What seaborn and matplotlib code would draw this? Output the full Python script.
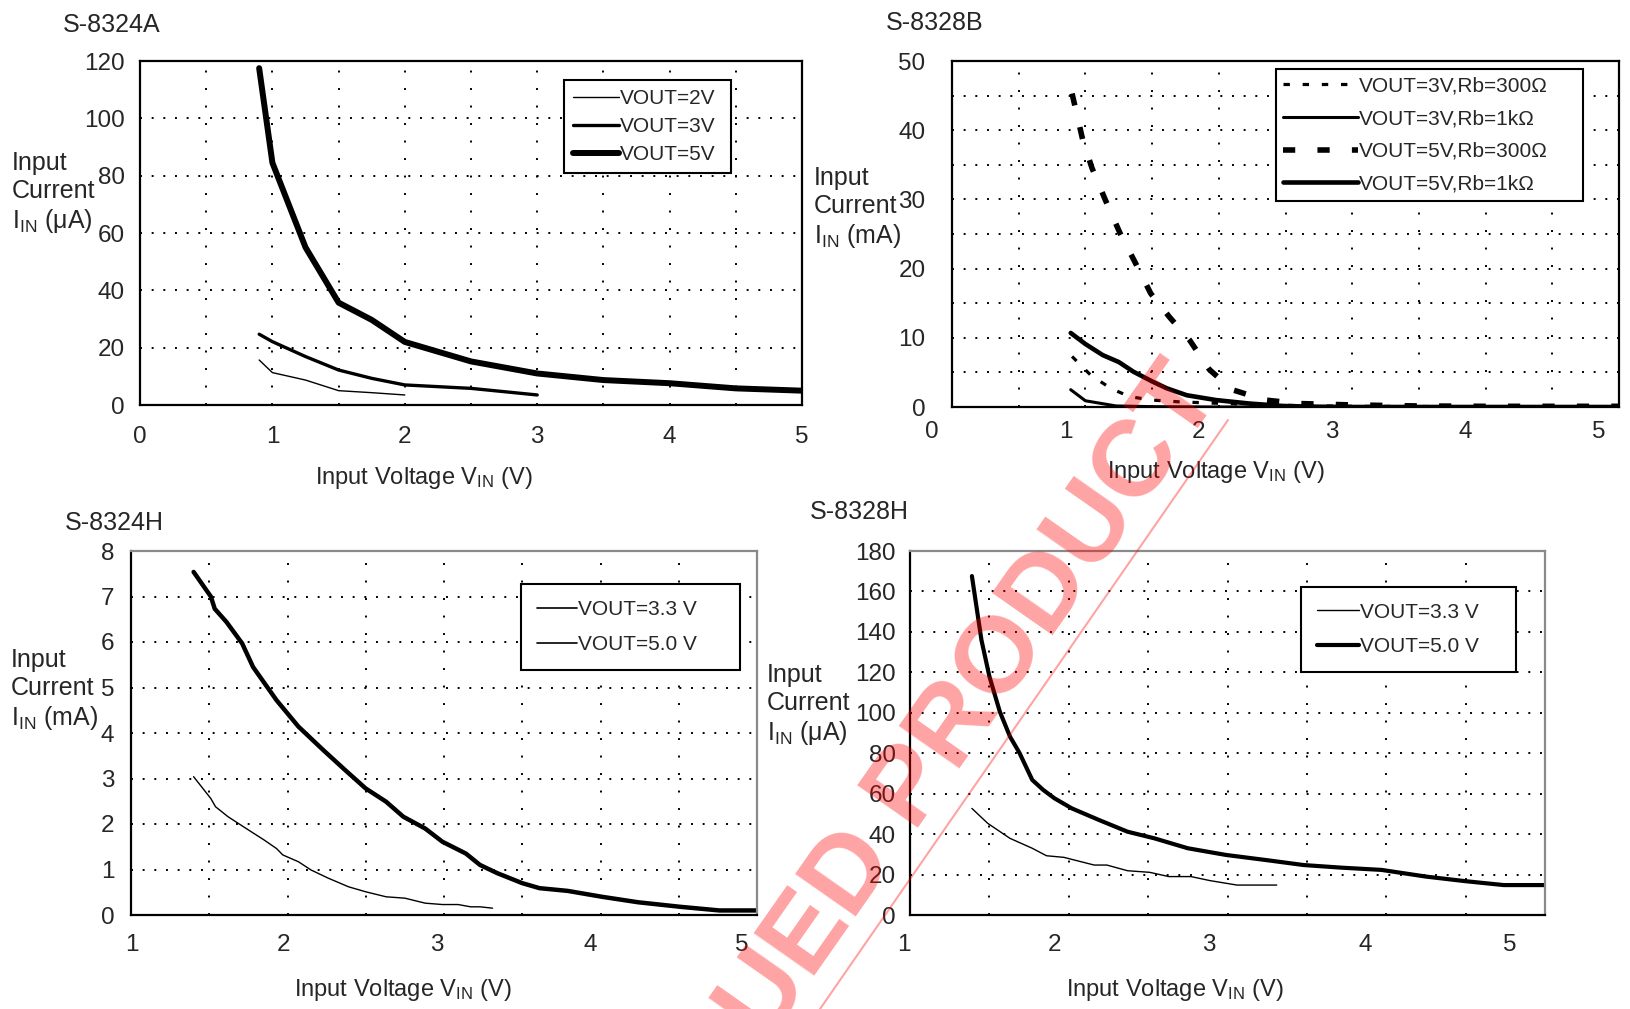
import numpy as np
import matplotlib
matplotlib.use("Agg")
import matplotlib.pyplot as plt
from matplotlib.lines import Line2D
from matplotlib.transforms import ScaledTranslation
import seaborn as sns

# ---- S-8324A : input current (uA) vs input voltage (V)
a_vin_5v = [0.9, 1.0, 1.25, 1.5, 1.75, 2.0, 2.5, 3.0, 3.5, 4.0, 4.5, 5.0]
a_iin_5v = [117.5, 84.5, 55.0, 35.7, 29.7, 22.0, 15.2, 11.0, 8.7, 7.6, 5.8, 5.0]
a_vin_3v = [0.9, 1.0, 1.25, 1.5, 1.75, 2.0, 2.5, 3.0]
a_iin_3v = [24.7, 22.1, 16.9, 12.2, 9.3, 7.0, 5.8, 3.5]
a_vin_2v = [0.9, 1.0, 1.25, 1.5, 1.75, 2.0]
a_iin_2v = [15.7, 11.3, 8.7, 5.0, 4.3, 3.5]

# ---- S-8328B : input current (mA)
b_vin_5v300 = [0.9, 0.98, 1.05, 1.15, 1.26, 1.37, 1.49, 1.63, 1.78, 1.93, 2.1, 2.35, 2.6, 3.0, 3.5, 4.0, 4.5, 5.0]
b_iin_5v300 = [45.3, 38.6, 34.5, 29.9, 25.1, 21.0, 16.4, 13.0, 9.7, 5.4, 2.5, 1.0, 0.5, 0.3, 0.15, 0.1, 0.1, 0.1]
b_vin_3v300 = [0.9, 1.04, 1.19, 1.33, 1.5, 1.7, 1.9, 2.2, 2.6, 3.0, 4.0, 5.0]
b_iin_3v300 = [7.3, 4.6, 2.7, 1.5, 1.0, 0.75, 0.6, 0.4, 0.2, 0.1, 0.05, 0.05]
b_vin_5v1k = [0.89, 1.0, 1.13, 1.25, 1.36, 1.5, 1.61, 1.76, 1.98, 2.23, 2.48, 2.7, 3.0, 4.0, 5.0]
b_iin_5v1k = [10.7, 9.1, 7.5, 6.5, 5.1, 3.7, 2.7, 1.7, 1.0, 0.5, 0.15, 0.05, 0.0, 0.0, 0.0]
b_vin_3v1k = [0.89, 1.0, 1.23, 1.5, 2.0, 3.0, 4.0, 5.0]
b_iin_3v1k = [2.5, 0.9, 0.15, 0.05, 0.0, 0.0, 0.0, 0.0]

# ---- S-8324H : input current (mA)
h4_vin_50 = [1.40, 1.51, 1.535, 1.61, 1.71, 1.78, 1.93, 2.07, 2.23, 2.37, 2.50, 2.63, 2.74,
             2.88, 2.99, 3.14, 3.23, 3.34, 3.50, 3.61, 3.79, 4.01, 4.24, 4.51, 4.76, 5.0]
h4_iin_50 = [7.54, 7.0, 6.73, 6.44, 5.97, 5.45, 4.72, 4.14, 3.62, 3.18, 2.78, 2.49, 2.16,
             1.90, 1.61, 1.35, 1.10, 0.92, 0.70, 0.59, 0.53, 0.40, 0.28, 0.18, 0.10, 0.10]
h4_vin_33 = [1.40, 1.51, 1.54, 1.62, 1.75, 1.85, 1.93, 1.97, 2.07, 2.15, 2.26, 2.39, 2.50,
             2.63, 2.75, 2.88, 2.99, 3.09, 3.17, 3.23, 3.31]
h4_iin_33 = [3.04, 2.56, 2.38, 2.16, 1.87, 1.65, 1.46, 1.32, 1.17, 0.99, 0.81, 0.62, 0.51,
             0.40, 0.37, 0.26, 0.23, 0.23, 0.18, 0.18, 0.15]

# ---- S-8328H : input current (uA)
h8_vin_50 = [1.39, 1.45, 1.5, 1.566, 1.63, 1.69, 1.77, 1.84, 1.91, 2.02, 2.19, 2.37, 2.54,
             2.75, 2.99, 3.24, 3.48, 3.72, 3.97, 4.25, 4.49, 4.74, 5.0]
h8_iin_50 = [167.6, 136.0, 118.0, 100.5, 88.2, 80.1, 66.8, 61.8, 57.7, 52.7, 47.0, 41.2, 37.9,
             33.0, 29.7, 27.2, 24.7, 23.4, 22.3, 19.0, 16.8, 14.8, 14.8]
h8_vin_33 = [1.39, 1.49, 1.63, 1.77, 1.86, 1.97, 2.16, 2.24, 2.37, 2.51, 2.63, 2.77, 2.89, 3.06, 3.31]
h8_iin_33 = [52.7, 45.3, 37.9, 33.0, 29.3, 28.5, 24.7, 24.7, 21.9, 21.1, 19.0, 19.0, 17.0, 14.8, 14.8]

W, H = 1630, 1009

sns.set_style("white")
plt.rcParams['font.family'] = ['Liberation Sans', 'DejaVu Sans']
plt.rcParams['mathtext.fontset'] = 'custom'
plt.rcParams['mathtext.rm'] = 'Liberation Sans'
plt.rcParams['mathtext.it'] = 'Liberation Sans:italic'
plt.rcParams['mathtext.bf'] = 'Liberation Sans:bold'

fig = plt.figure(figsize=(W / 100, H / 100), dpi=100)


def ax_rect(left, top, right, bottom):
    return [left / W, 1 - bottom / H, (right - left) / W, (bottom - top) / H]


def fig_xy(x, y):
    return x / W, 1 - y / H


def style_axes(ax, xlim, ylim, xmajor, ymajor, yminor, gray_top_right=False,
               xpad=16, ypad=11, inward=False):
    ax.set_xlim(*xlim)
    ax.set_ylim(*ylim)
    ax.set_xticks(xmajor)
    ax.set_xticks(np.arange(xlim[0] + 0.5, xlim[1], 1.0), minor=True)
    ax.set_yticks(ymajor)
    ax.set_yticks(yminor, minor=True)
    ax.set_xticklabels([str(int(v)) for v in xmajor])
    ax.set_yticklabels([str(int(v)) for v in ymajor])
    ax.set_xlabel('')
    ax.set_ylabel('')
    ax.grid(True, axis='y', which='both', color='black', lw=1.4, linestyle=(0, (1, 5)))
    ax.grid(True, axis='x', which='both', color='black', lw=1.4, linestyle=(0, (1, 8)))
    for side, sp in ax.spines.items():
        sp.set_linewidth(1.6)
        sp.set_color('black')
        sp.set_visible(True)
        sp.set_zorder(5)
    if gray_top_right:
        ax.spines['top'].set_color('#8a8a8a')
        ax.spines['right'].set_color('#8a8a8a')
    ax.tick_params(axis='y', which='both', length=0, pad=ypad, labelsize=17.5)
    if inward:
        ax.tick_params(axis='x', which='major', direction='in', length=6, width=1.4,
                       pad=xpad, labelsize=17.5, top=False)
        ax.tick_params(axis='x', which='minor', direction='in', length=3, width=1.4)
    else:
        ax.tick_params(axis='x', which='both', length=0, pad=xpad, labelsize=17.5)


def shift_xlabels(ax, shifts):
    for lab, dx in zip(ax.get_xticklabels(), shifts):
        lab.set_transform(lab.get_transform() + ScaledTranslation(dx / 100, 0, fig.dpi_scale_trans))


def draw(ax, x, y, lw, ls='-'):
    sns.lineplot(x=x, y=y, ax=ax, color='black', lw=lw, linestyle=ls, estimator=None,
                 sort=False, solid_capstyle='round', solid_joinstyle='round',
                 dash_capstyle='butt')


def add_legend(ax, handles, labels, box_px, ax_px, handlelength, labelspacing, borderpad):
    # box_px: legend left/top/right in figure pixels, ax_px: axes left/top/right/bottom
    l, t, r = box_px
    al, at, ar, ab = ax_px
    x0 = (l - al) / (ar - al)
    y1 = 1 - (t - at) / (ab - at)
    w = (r - l) / (ar - al)
    leg = ax.legend(handles, labels, loc='upper left', bbox_to_anchor=(x0, y1 - 0.5, w, 0.5),
                    mode='expand', fontsize=15, frameon=True, fancybox=False, framealpha=1,
                    edgecolor='black', borderaxespad=0, borderpad=borderpad,
                    handlelength=handlelength, handletextpad=0.05,
                    labelspacing=labelspacing)
    leg.get_frame().set_linewidth(1.5)
    leg.set_zorder(6)


ylab_ua = "Input\nCurrent\nI$_{\\rm IN}$ (μA)"
ylab_ma = "Input\nCurrent\nI$_{\\rm IN}$ (mA)"
xlab = "Input Voltage V$_{\\rm IN}$ (V)"

# ---------- S-8324A
p1 = (140, 61, 802, 405)
ax1 = fig.add_axes(ax_rect(*p1))
draw(ax1, a_vin_2v, a_iin_2v, 1.0)
draw(ax1, a_vin_3v, a_iin_3v, 2.4)
draw(ax1, a_vin_5v, a_iin_5v, 4.3)
style_axes(ax1, (0, 5), (0, 120), range(0, 6), range(0, 121, 20), [], xpad=15, ypad=11)
add_legend(ax1,
           [Line2D([], [], color='black', lw=1.0), Line2D([], [], color='black', lw=2.4),
            Line2D([], [], color='black', lw=4.3)],
           ["VOUT=2V", "VOUT=3V", "VOUT=5V"], (564, 80, 731), p1, 2.2, 0.42, 0.45)

# ---------- S-8328B
p2 = (952, 61, 1619, 407)
ax2 = fig.add_axes(ax_rect(*p2))
d300_3 = (0, (2, 4))
d300_5 = (0, (2.2, 4))
draw(ax2, b_vin_3v300, b_iin_3v300, 2.3, d300_3)
draw(ax2, b_vin_3v1k, b_iin_3v1k, 2.2)
draw(ax2, b_vin_5v300, b_iin_5v300, 4.0, d300_5)
draw(ax2, b_vin_5v1k, b_iin_5v1k, 3.3)
style_axes(ax2, (0, 5), (0, 50), range(0, 6), range(0, 51, 10), range(5, 50, 10),
           xpad=10, ypad=19)
shift_xlabels(ax2, [-20] * 6)
add_legend(ax2,
           [Line2D([], [], color='black', lw=2.3, linestyle=d300_3),
            Line2D([], [], color='black', lw=2.2),
            Line2D([], [], color='black', lw=4.0, linestyle=d300_5),
            Line2D([], [], color='black', lw=3.3)],
           ["VOUT=3V,Rb=300Ω", "VOUT=3V,Rb=1kΩ", "VOUT=5V,Rb=300Ω", "VOUT=5V,Rb=1kΩ"],
           (1276, 69, 1583), p2, 3.6, 0.66, 0.35)

# ---------- S-8324H
p3 = (131, 551, 757, 915)
ax3 = fig.add_axes(ax_rect(*p3))
draw(ax3, h4_vin_33, h4_iin_33, 1.0)
draw(ax3, h4_vin_50, h4_iin_50, 3.2)
style_axes(ax3, (1, 5), (0, 8), range(1, 6), range(0, 9), [], gray_top_right=True,
           xpad=14, ypad=12, inward=True)
shift_xlabels(ax3, [1, -4, -7, -10, -15])
add_legend(ax3,
           [Line2D([], [], color='black', lw=1.2), Line2D([], [], color='black', lw=1.2)],
           ["VOUT=3.3 V", "VOUT=5.0 V"], (521, 584, 740), p3, 1.9, 0.75, 0.78)

# ---------- S-8328H
p4 = (910, 551, 1545, 915)
ax4 = fig.add_axes(ax_rect(*p4))
draw(ax4, h8_vin_33, h8_iin_33, 1.0)
draw(ax4, h8_vin_50, h8_iin_50, 3.0)
style_axes(ax4, (1, 5), (0, 180), range(1, 6), range(0, 181, 20), [], gray_top_right=True,
           xpad=14, ypad=10, inward=True)
shift_xlabels(ax4, [-6, -14, -19, -21, -35])
add_legend(ax4,
           [Line2D([], [], color='black', lw=1.0), Line2D([], [], color='black', lw=3.0)],
           ["VOUT=3.3 V", "VOUT=5.0 V"], (1301, 587, 1516), p4, 2.05, 0.75, 0.75)

# ---------- titles and axis labels
for x, y, s in [(63, 25, "S-8324A"), (886, 23, "S-8328B"), (65, 523, "S-8324H"), (810, 512, "S-8328H")]:
    fig.text(*fig_xy(x, y), s, ha='left', va='center', fontsize=18)
for x, y, s in [(12, 193, ylab_ua), (814, 208, ylab_ma), (11, 690, ylab_ma), (767, 705, ylab_ua)]:
    fig.text(*fig_xy(x, y), s, ha='left', va='center', linespacing=1.2, fontsize=18)
for x, y in [(424, 478), (1216, 472), (403, 990), (1175, 990)]:
    fig.text(*fig_xy(x, y), xlab, ha='center', va='center', fontsize=17)

# ---------- watermark
fig.text(*fig_xy(1222, 394), "DISCONTINUED PRODUCT", rotation=55, rotation_mode='anchor',
         ha='right', va='baseline', fontsize=78, fontweight='bold', color='red',
         alpha=0.36, zorder=20)
fig.add_artist(Line2D([820 / W, 1228 / W], [1 - 1009 / H, 1 - 420 / H], transform=fig.transFigure,
                      color='red', alpha=0.36, lw=1.5, zorder=20))

fig.savefig("out.png", dpi=100)
